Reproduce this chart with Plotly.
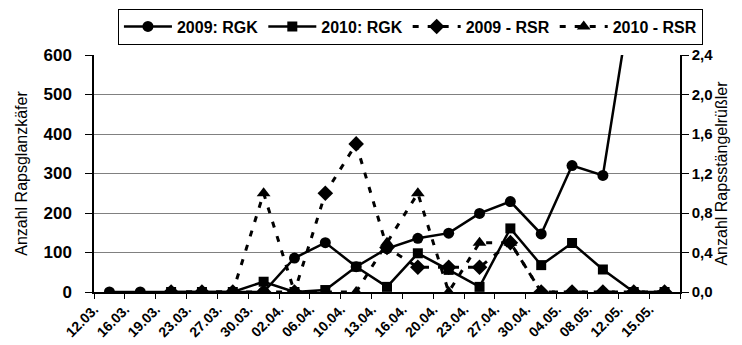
import plotly.graph_objects as go

dates = ["12.03.", "16.03.", "19.03.", "23.03.", "27.03.", "30.03.", "02.04.",
         "06.04.", "10.04.", "13.04.", "16.04.", "20.04.", "23.04.", "27.04.",
         "30.04.", "04.05.", "08.05.", "12.05.", "15.05."]

rgk_2009 = [0, 0, 0, 0, 0, 0, 86, 125, 64, 110, 136, 149, 199, 229, 147, 320, 295, 785, None]
rgk_2010 = [None, None, 0, 0, 0, 26, 0, 5, 64, 13, 98, 56, 13, 161, 68, 124, 57, 0, 0]
rsr_2009 = [None, None, 0, 0, 0, 0, 0, 1.0, 1.5, 0.45, 0.25, 0.25, 0.25, 0.5, 0, 0, 0, 0, 0]
rsr_2010 = [None, None, 0, 0, 0, 1.0, 0, 0, 0, 0.5, 1.0, 0, 0.5, 0.5, 0, 0, 0, 0, 0]

FONT = "Liberation Sans, Arial, sans-serif"
bold = lambda s: dict(family=FONT, size=s, color="black", weight="bold")

fig = go.Figure()
fig.add_trace(go.Scatter(x=dates, y=rgk_2009, name="2009: RGK", mode="lines+markers",
                         line=dict(color="black", width=2.5),
                         marker=dict(symbol="circle", size=11, color="black")))
fig.add_trace(go.Scatter(x=dates, y=rgk_2010, name="2010: RGK", mode="lines+markers",
                         line=dict(color="black", width=2.5),
                         marker=dict(symbol="square", size=10, color="black")))
fig.add_trace(go.Scatter(x=dates, y=rsr_2009, name="2009 - RSR", mode="lines+markers", yaxis="y2",
                         line=dict(color="black", width=3, dash="6px,9px"),
                         marker=dict(symbol="diamond", size=12, color="black")))
fig.add_trace(go.Scatter(x=dates, y=rsr_2010, name="2010 - RSR", mode="lines+markers", yaxis="y2",
                         line=dict(color="black", width=3, dash="6px,9px"),
                         marker=dict(symbol="triangle-up", size=12, color="black")))

# page has an 8px body margin, so the figure is sized/offset to compensate
fig.update_layout(
    width=734, height=337,
    margin=dict(l=86, r=62, t=47, b=53, autoexpand=False),
    paper_bgcolor="white", plot_bgcolor="white",
    separators=",.",
    font=dict(family=FONT, color="black"),
    showlegend=True,
    legend=dict(orientation="h", x=0.54, xanchor="center", y=1.196, yanchor="top",
                bordercolor="black", borderwidth=1, bgcolor="white",
                font=bold(16), itemwidth=48, tracegroupgap=0),
    xaxis=dict(type="category", range=[-0.5, 18.5], tickson="boundaries",
               ticks="outside", ticklen=5, tickcolor="black", tickwidth=1,
               showline=True, linecolor="black", linewidth=1.5, automargin=False,
               showgrid=False, tickangle=-45, tickfont=bold(14),
               ticklabelshift=-15, ticklabelstandoff=2),
    yaxis=dict(range=[0, 600], dtick=100, showgrid=True, gridcolor="#808080", gridwidth=1,
               showline=True, linecolor="black", linewidth=1.5, zeroline=False,
               ticks="outside", ticklen=7, tickcolor="black", automargin=False,
               tickfont=bold(17), ticklabelstandoff=10,
               title=dict(text="Anzahl Rapsglanzkäfer", font=dict(family=FONT, size=16, color="black"),
                          standoff=12)),
    yaxis2=dict(range=[0, 2.4], dtick=0.4, tickformat=".1f", overlaying="y", side="right",
                showgrid=False, showline=True, linecolor="black", linewidth=1.5, zeroline=False,
                ticks="outside", ticklen=7, tickcolor="black", automargin=False,
                tickfont=bold(15),
                title=dict(text="Anzahl Rapsstängelrüßler", font=dict(family=FONT, size=16, color="black"),
                           standoff=2)),
)

fig.write_html("out.html")
